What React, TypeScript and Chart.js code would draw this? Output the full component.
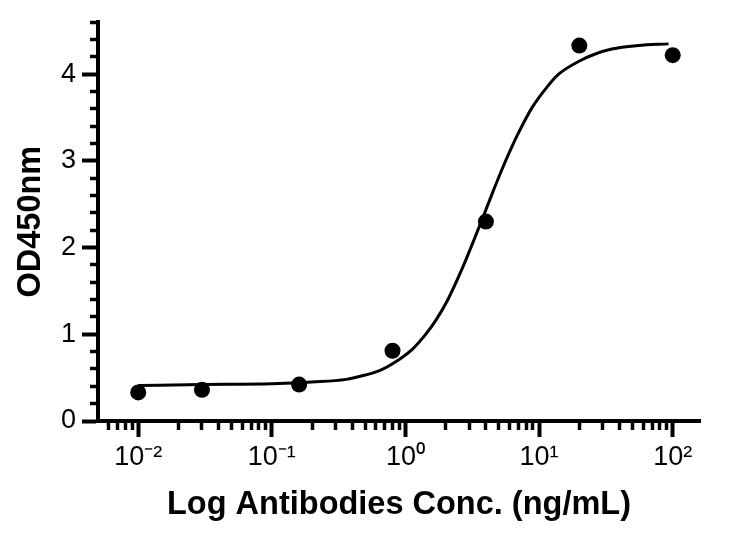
import React, { useEffect, useRef } from "react";
import { Chart, registerables } from "chart.js";

Chart.register(...registerables);

// Measured data points
const pointConc = [0.01, 0.03, 0.16, 0.8, 4, 20, 100];
const pointOD = [0.33, 0.36, 0.42, 0.81, 2.3, 4.33, 4.22];

// Fitted curve
const curveConc = [0.01, 0.03, 0.1, 0.2, 0.36, 0.5, 0.64, 0.8, 1.13, 1.4, 1.7, 2.06, 2.66, 3.2, 3.76, 4.5, 5.3, 6.2, 7.1, 8.9, 11.3, 14, 19.9, 26, 35, 55, 93];
const curveOD = [0.41, 0.42, 0.43, 0.45, 0.48, 0.53, 0.58, 0.66, 0.83, 0.99, 1.17, 1.39, 1.76, 2.06, 2.33, 2.64, 2.91, 3.15, 3.34, 3.62, 3.84, 4.0, 4.15, 4.23, 4.29, 4.33, 4.35];

// Axes
const xMin = 0.005;
const xMax = 160;
const xMajorTicks = [0.01, 0.1, 1, 10, 100];
const xTickLabels = ["10⁻²", "10⁻¹", "10⁰", "10¹", "10²"];
const xMinorTicks = [
  0.006, 0.007, 0.008, 0.009,
  0.02, 0.03, 0.04, 0.05, 0.06, 0.07, 0.08, 0.09,
  0.2, 0.3, 0.4, 0.5, 0.6, 0.7, 0.8, 0.9,
  2, 3, 4, 5, 6, 7, 8, 9,
  20, 30, 40, 50, 60, 70, 80, 90,
];
const yMin = 0;
const yMax = 4.6;
const yMajorTicks = [0, 1, 2, 3, 4];
const yTickLabels = ["0", "1", "2", "3", "4"];
const yMinorTicks = [0.2, 0.4, 0.6, 0.8, 1.2, 1.4, 1.6, 1.8, 2.2, 2.4, 2.6, 2.8, 3.2, 3.4, 3.6, 3.8, 4.2, 4.4, 4.6];

const xTitle = "Log Antibodies Conc. (ng/mL)";
const yTitle = "OD450nm";

const FONT = "'Liberation Sans', Arial, Helvetica, sans-serif";

export default function App() {
  const ref = useRef<HTMLCanvasElement | null>(null);

  useEffect(() => {
    if (!ref.current) return;
    const chart = new Chart(ref.current, {
      type: "scatter",
      data: {
        datasets: [
          {
            type: "scatter",
            data: pointConc.map((x, i) => ({ x, y: pointOD[i] })),
            pointRadius: 8,
            pointBackgroundColor: "#000",
            pointBorderWidth: 0,
            borderColor: "#000",
          } as any,
          {
            type: "line",
            data: curveConc.map((x, i) => ({ x, y: curveOD[i] })),
            borderColor: "#000",
            borderWidth: 3,
            pointRadius: 0,
            fill: false,
            cubicInterpolationMode: "monotone",
          } as any,
        ],
      },
      options: {
        responsive: false,
        animation: false,
        layout: { padding: { top: 20, right: 31, left: 0, bottom: 0 } },
        plugins: { legend: { display: false }, tooltip: { enabled: false } },
        scales: {
          x: {
            type: "logarithmic",
            position: "bottom",
            min: xMin,
            max: xMax,
            afterBuildTicks: (scale: any) => {
              scale.ticks = xMajorTicks.map((v) => ({ value: v, major: true }));
            },
            afterFit: (scale: any) => {
              scale.height = 112;
            },
            border: { display: true, color: "#000", width: 4 },
            grid: {
              display: true,
              drawOnChartArea: false,
              drawTicks: true,
              tickLength: 16,
              tickWidth: 4,
              tickColor: "#000",
              color: "#000",
            },
            ticks: {
              color: "#000",
              font: { family: FONT, size: 27, lineHeight: 1.2 },
              padding: 4,
              autoSkip: false,
              maxRotation: 0,
              minRotation: 0,
              callback: (_v: any, i: number) => xTickLabels[i],
            },
            title: {
              display: true,
              text: xTitle,
              color: "#000",
              font: { family: FONT, size: 32.5, weight: "bold", lineHeight: 1.2 },
              padding: { top: 0, bottom: 8 },
            },
          },
          xMinor: {
            type: "logarithmic",
            axis: "x",
            position: { y: 0 },
            min: xMin,
            max: xMax,
            afterBuildTicks: (scale: any) => {
              scale.ticks = xMinorTicks.map((v) => ({ value: v }));
            },
            border: { display: false },
            grid: {
              display: true,
              drawOnChartArea: false,
              drawTicks: true,
              tickLength: 9,
              tickWidth: 3.5,
              tickColor: "#000",
              color: "#000",
            },
            ticks: { display: false, autoSkip: false },
            title: { display: false },
          } as any,
          y: {
            type: "linear",
            position: "left",
            min: yMin,
            max: yMax,
            afterBuildTicks: (scale: any) => {
              scale.ticks = yMajorTicks.map((v) => ({ value: v }));
            },
            afterFit: (scale: any) => {
              scale.width = 98;
            },
            border: { display: true, color: "#000", width: 4 },
            grid: {
              display: true,
              drawOnChartArea: false,
              drawTicks: true,
              tickLength: 16,
              tickWidth: 4,
              tickColor: "#000",
              color: "#000",
            },
            ticks: {
              color: "#000",
              font: { family: FONT, size: 27, lineHeight: 1.2 },
              padding: 6,
              autoSkip: false,
              callback: (_v: any, i: number) => yTickLabels[i],
            },
            title: {
              display: true,
              text: yTitle,
              color: "#000",
              font: { family: FONT, size: 32.5, weight: "bold", lineHeight: 1.2 },
              padding: { top: 12, bottom: 0 },
            },
          },
          yMinor: {
            type: "linear",
            axis: "y",
            position: { x: xMin },
            min: yMin,
            max: yMax,
            afterBuildTicks: (scale: any) => {
              scale.ticks = yMinorTicks.map((v) => ({ value: v }));
            },
            border: { display: false },
            grid: {
              display: true,
              drawOnChartArea: false,
              drawTicks: true,
              tickLength: 8,
              tickWidth: 3.5,
              tickColor: "#000",
              color: "#000",
            },
            ticks: { display: false, autoSkip: false },
            title: { display: false },
          } as any,
        },
      } as any,
    });
    return () => chart.destroy();
  }, []);

  return (
    <div style={{ position: "fixed", left: 0, top: 0, width: 731, height: 533, background: "#fff" }}>
      <canvas ref={ref} width={731} height={533} />
    </div>
  );
}
